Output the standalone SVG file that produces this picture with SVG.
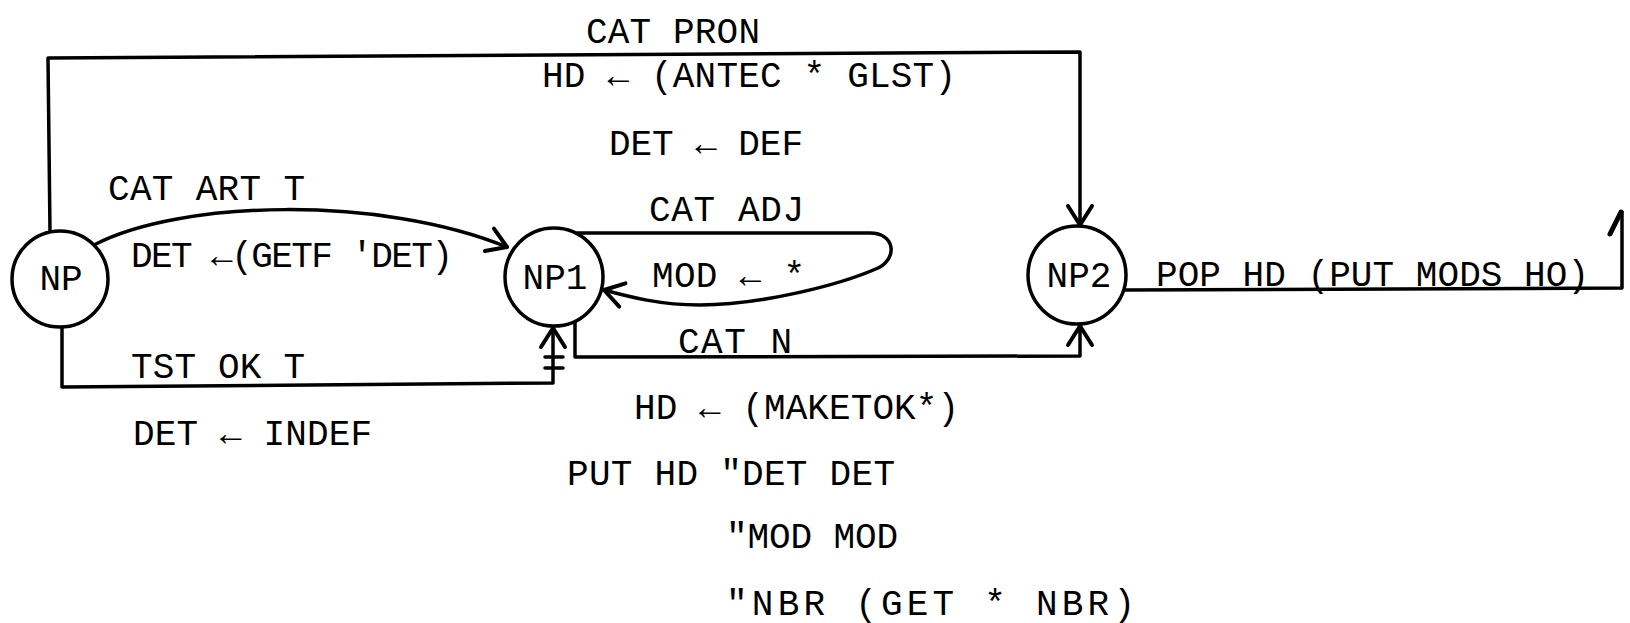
<svg xmlns="http://www.w3.org/2000/svg" width="1630" height="623" viewBox="0 0 1630 623">
<style>
.t{font-family:"Liberation Mono","DejaVu Sans Mono",monospace;font-size:36px;fill:#000}
.n{fill:#fff;stroke:#000;stroke-width:3.5}
.c{fill:none;stroke:#000;stroke-width:3.5;stroke-linejoin:round;stroke-linecap:round}
</style>
<defs>
<marker id="ah" markerUnits="userSpaceOnUse" markerWidth="30" markerHeight="30" viewBox="-25 -15 30 30" refX="0" refY="0" orient="auto">
<path d="M-19,-12 L0,0 L-19,12" fill="none" stroke="#000" stroke-width="4" stroke-linecap="round" stroke-linejoin="round"/>
</marker>
</defs>
<rect width="1630" height="623" fill="#fff"/>
<g id="connectors">
<path class="c" d="M50 232 L48 58 L1080 52 L1080 225" marker-end="url(#ah)"/>
<path class="c" d="M94 245 C180 200 380 195 507 247" marker-end="url(#ah)"/>
<path class="c" d="M62 327 L62 387 L553 383 L553 328" marker-end="url(#ah)"/>
<path class="c" d="M545 357 L563 357 M545 368 L563 368"/>
<path class="c" d="M577 233 L870 233 C895 233 898 258 878 268 C840 285 760 305 700 305 C660 305 630 297 604 290" marker-end="url(#ah)"/>
<path class="c" d="M575 321 L575 357 L1080 356 L1080 326" marker-end="url(#ah)"/>
<path class="c" d="M1124 290 L1622 288 L1622 212"/>
<path class="c" style="stroke-width:5" d="M1610 234 L1621 212"/>
</g>
<g id="NP">
<circle class="n" cx="60" cy="279" r="48"/>
<text class="t" x="61" y="290" text-anchor="middle">NP</text>
</g>
<g id="NP1">
<circle class="n" cx="554" cy="277" r="49"/>
<text class="t" x="555" y="289" text-anchor="middle">NP1</text>
</g>
<g id="NP2">
<circle class="n" cx="1077" cy="275" r="49"/>
<text class="t" x="1079" y="287" text-anchor="middle">NP2</text>
</g>
<g id="labels">
<text class="t" x="586" y="43" textLength="174" lengthAdjust="spacing">CAT PRON</text>
<text class="t" x="542" y="87" textLength="414" lengthAdjust="spacing">HD ← (ANTEC * GLST)</text>
<text class="t" x="609" y="155" textLength="194" lengthAdjust="spacing">DET ← DEF</text>
<text class="t" x="108" y="200" textLength="197" lengthAdjust="spacing">CAT ART T</text>
<text class="t" x="649" y="221" textLength="155" lengthAdjust="spacing">CAT ADJ</text>
<text class="t" x="131" y="267" textLength="322" lengthAdjust="spacing">DET ←(GETF 'DET)</text>
<text class="t" x="652" y="287" textLength="153" lengthAdjust="spacing">MOD ← *</text>
<text class="t" x="131" y="378" textLength="174" lengthAdjust="spacing">TST OK T</text>
<text class="t" x="678" y="353" textLength="114" lengthAdjust="spacing">CAT N</text>
<text class="t" x="1156" y="286" textLength="433" lengthAdjust="spacing">POP HD (PUT MODS HO)</text>
<text class="t" x="133" y="445" textLength="239" lengthAdjust="spacing">DET ← INDEF</text>
<text class="t" x="634" y="419" textLength="325" lengthAdjust="spacing">HD ← (MAKETOK*)</text>
<text class="t" x="567" y="485" textLength="328" lengthAdjust="spacing">PUT HD "DET DET</text>
<text class="t" x="726" y="548" textLength="172" lengthAdjust="spacing">"MOD MOD</text>
<text class="t" x="726" y="615" textLength="409" lengthAdjust="spacing">"NBR (GET * NBR)</text>
</g>
</svg>
